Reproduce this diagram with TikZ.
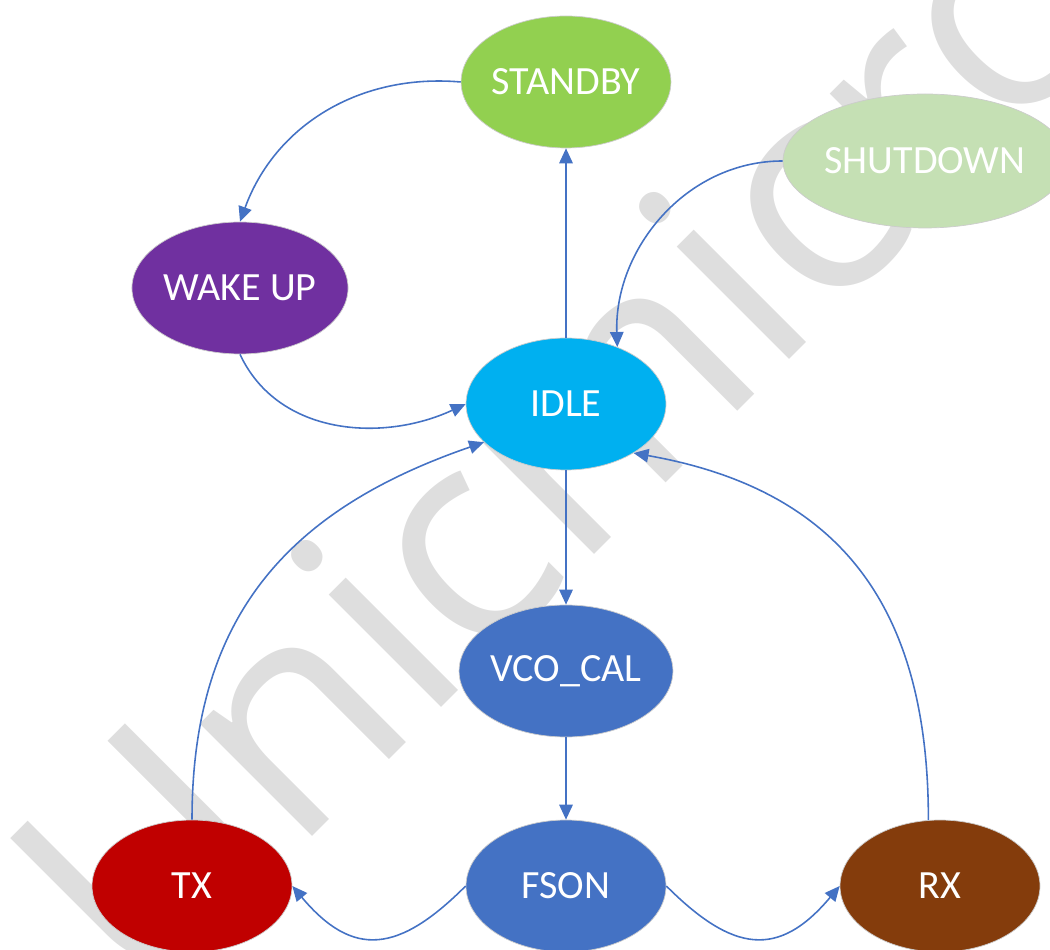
\documentclass[tikz,border=0pt]{standalone}
\usepackage{fontspec}
\setmainfont{Carlito}
\newfontfamily\markfont{Open Sans}
\usetikzlibrary{arrows.meta,shapes.geometric}

\definecolor{linkblue}{HTML}{4472C4}
\definecolor{markgray}{HTML}{DEDEDE}
\definecolor{standbygreen}{HTML}{92D050}
\definecolor{shutdowngreen}{HTML}{C5E0B4}
\definecolor{wakepurple}{HTML}{7030A0}
\definecolor{idleblue}{HTML}{00B0F0}
\definecolor{txred}{HTML}{C00000}
\definecolor{rxbrown}{HTML}{843C0C}

\tikzset{
	state/.style={ellipse, draw=gray!40, line width=0.4pt, minimum width=4cm, minimum height=2.64cm, inner sep=0pt, text=white, font=\fontsize{22.8}{26}\selectfont},
	link/.style={draw=linkblue, line width=0.9pt, -{Triangle[length=0.3cm,width=0.27cm]}}
}

\begin{document}
\begin{tikzpicture}[x=0.02cm,y=0.02cm]
		\useasboundingbox (0,0) rectangle (1050,949);

		\node[rotate=45, anchor=base west, inner sep=0pt, text=markgray, font=\markfont\fontsize{169}{169}\selectfont] (mark) at (141,-59) {Unicmicro};

		\node[state, fill=standbygreen] (standby) at (566,867) {STANDBY};
		\node[state, fill=shutdowngreen, minimum width=5.02cm, minimum height=2.68cm] (shutdown) at (925,788) {SHUTDOWN};
		\node[state, fill=wakepurple] (wakeup) at (240,661) {WAKE UP};
		\node[state, fill=idleblue] (idle) at (566,545) {IDLE};
		\node[state, fill=linkblue] (vcocal) at (566,278) {VCO\_CAL};
		\node[state, fill=linkblue] (fson) at (566,63) {FSON};
		\node[state, fill=txred] (tx) at (192,63) {TX};
		\node[state, fill=rxbrown] (rx) at (940,63) {RX};

		\draw[link] (standby.west) to[out=175, in=70] (wakeup.north);
		\draw[link] (wakeup.south) to[out=-65, in=205] (idle.west);
		\draw[link] (idle.north) -- (standby.south);
		\draw[link] (shutdown.west) to[out=180, in=92] (idle.48);
		\draw[link] (idle.south) -- (vcocal.north);
		\draw[link] (vcocal.south) -- (fson.north);
		\draw[link] (fson.west) to[out=225, in=-50, looseness=1.4] (tx.east);
		\draw[link] (fson.east) to[out=-45, in=230, looseness=1.4] (rx.west);
		\draw[link] (tx.north) to[out=90, in=199, looseness=1.1] (idle.205);
		\draw[link] (rx.100) to[out=90, in=-10, looseness=1.15] (idle.324);
\end{tikzpicture}
\end{document}
